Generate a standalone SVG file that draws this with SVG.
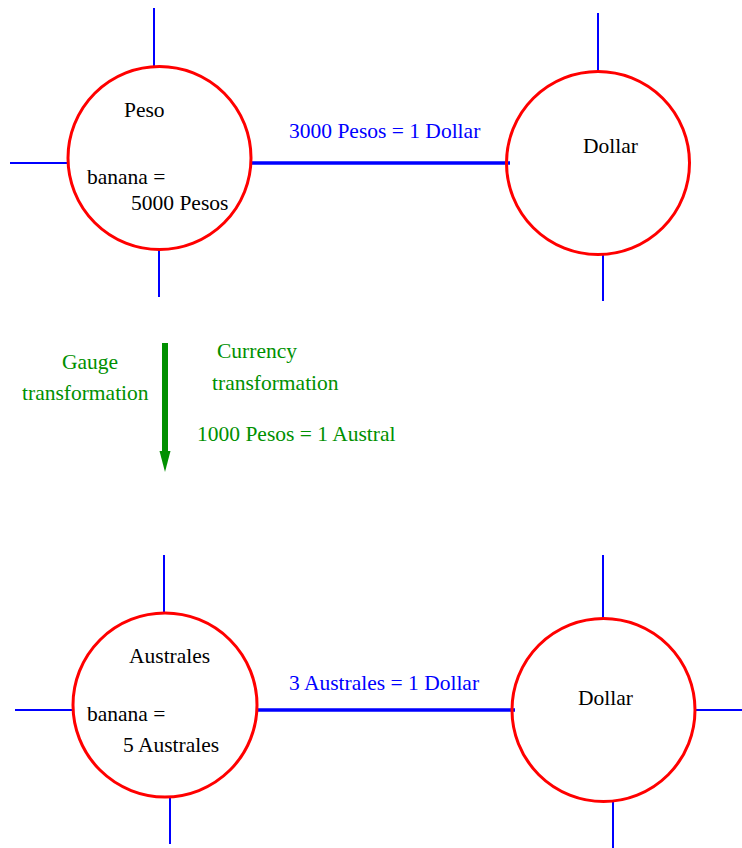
<svg xmlns="http://www.w3.org/2000/svg" width="742" height="848" viewBox="0 0 742 848">
<style>
.node{fill:none;stroke:#ff0000;stroke-width:3}
.stub{stroke:#0000ff;stroke-width:2}
.conn{stroke:#0000ff;stroke-width:3.5}
.k{fill:#000}
.b{fill:#0000ff}
.g{fill:#009000}
</style>
<rect width="742" height="848" fill="#fff"/>
<g font-family="'Liberation Serif', 'DejaVu Serif', Times, serif" font-size="21.5">
<g id="connectors">
<line class="conn" x1="251" y1="163" x2="510" y2="163"/>
<line class="conn" x1="257" y1="710" x2="515" y2="710"/>
<text class="b" x="289" y="138">3000 Pesos = 1 Dollar</text>
<text class="b" x="289" y="690">3 Australes = 1 Dollar</text>
</g>
<g id="peso">
<line class="stub" x1="154" y1="8" x2="154" y2="67"/>
<line class="stub" x1="10" y1="163" x2="68" y2="163"/>
<line class="stub" x1="159" y1="249" x2="159" y2="297"/>
<circle class="node" cx="159.5" cy="158" r="91.5"/>
<text class="k" x="124" y="117">Peso</text>
<text class="k" x="87" y="184">banana =</text>
<text class="k" x="131" y="210">5000 Pesos</text>
</g>
<g id="dollar1">
<line class="stub" x1="598" y1="13" x2="598" y2="72"/>
<line class="stub" x1="603" y1="254" x2="603" y2="301"/>
<circle class="node" cx="598" cy="163" r="91.5"/>
<text class="k" x="583" y="153">Dollar</text>
</g>
<g id="transform">
<line x1="165" y1="343" x2="165" y2="452" stroke="#009000" stroke-width="6"/>
<polygon points="159.5,451 170.5,451 165,472" fill="#009000"/>
<text class="g" x="62" y="369">Gauge</text>
<text class="g" x="22" y="400">transformation</text>
<text class="g" x="217" y="358">Currency</text>
<text class="g" x="212" y="390">transformation</text>
<text class="g" x="197" y="441">1000 Pesos = 1 Austral</text>
</g>
<g id="australes">
<line class="stub" x1="164" y1="555" x2="164" y2="613"/>
<line class="stub" x1="15" y1="710" x2="73" y2="710"/>
<line class="stub" x1="170" y1="797" x2="170" y2="844"/>
<circle class="node" cx="165" cy="705" r="92"/>
<text class="k" x="129" y="663">Australes</text>
<text class="k" x="87" y="721">banana =</text>
<text class="k" x="123" y="752">5 Australes</text>
</g>
<g id="dollar2">
<line class="stub" x1="603" y1="555" x2="603" y2="619"/>
<line class="stub" x1="695" y1="710" x2="742" y2="710"/>
<line class="stub" x1="613" y1="801" x2="613" y2="848"/>
<circle class="node" cx="603.5" cy="710" r="91.5"/>
<text class="k" x="578" y="705">Dollar</text>
</g>
</g>
</svg>
